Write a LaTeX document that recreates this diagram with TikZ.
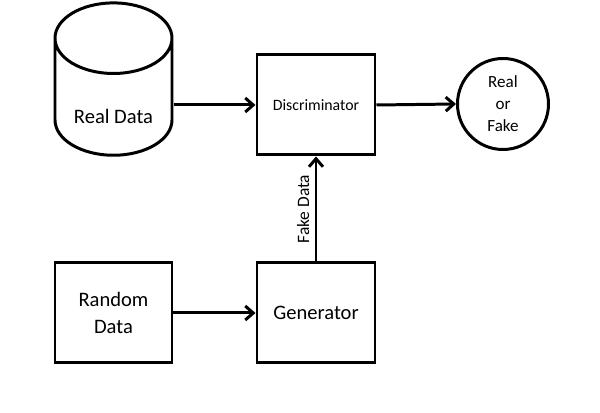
\documentclass[tikz,border=0pt]{standalone}
\usepackage{fontspec}
\setmainfont{Carlito}
\usetikzlibrary{shapes.geometric,arrows.meta}

\begin{document}
\begin{tikzpicture}[
  font=\fontsize{11.7}{15.3}\selectfont,
  modulo/.style={draw=black, line width=1.7pt, fill=white, align=center,
                 minimum width=2.36cm, minimum height=2.0cm, inner sep=2pt},
  archivio/.style={modulo, cylinder, shape border rotate=90, aspect=0.82,
                   minimum width=2.34cm, minimum height=3.02cm,
                   text height=0.9cm, text depth=0.1cm},
  esito/.style={modulo, circle, minimum size=1.82cm,
                font=\fontsize{9.7}{12.5}\selectfont},
  freccia/.style={draw=black, line width=1.7pt,
                  -{Straight Barb[length=1.6mm, width=2.8mm]}}
]

% ---- cornice della pagina ------------------------------------------
\useasboundingbox (0,0) rectangle (12,8.26);

% ---- blocchi -------------------------------------------------------
\node[archivio] (reali) at (2.27,6.19) {Real Data};
\node[modulo, font=\fontsize{9}{11}\selectfont] (discr) at (6.32,6.16) {Discriminator};
\node[esito] (uscita) at (10.06,6.18) {Real\\or\\Fake};

\node[modulo, minimum width=2.34cm] (casuali) at (2.27,2.0) {Random\\Data};
\node[modulo] (gen) at (6.32,2.0) {Generator};

% ---- collegamenti --------------------------------------------------
\draw[freccia] (reali.east |- discr.west) -- (discr.west);
\draw[freccia] (discr.east) -- (uscita.west);
\draw[freccia] (casuali.east) -- (gen.west);
\draw[freccia] (gen.north) -- node[sloped, above, inner sep=3pt,
  font=\fontsize{9.9}{12}\selectfont] {Fake Data} (discr.south);

\end{tikzpicture}
\end{document}
